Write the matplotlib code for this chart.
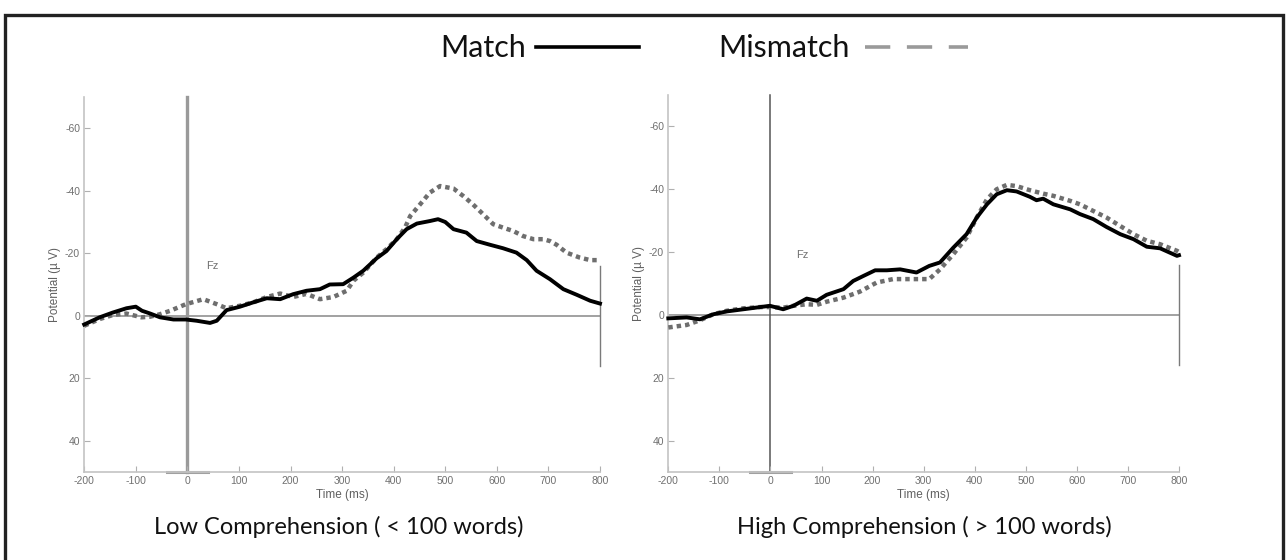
import numpy as np
import matplotlib
matplotlib.use("Agg")
import matplotlib.pyplot as plt
from matplotlib.lines import Line2D
from matplotlib.patches import Rectangle

plt.rcParams["axes.unicode_minus"] = False

# ERP na Fz, potencial em uV (eixo invertido: negativo para cima)
t_lo_match = [-200, -170, -145, -118, -100, -88, -72, -53, -27, -3, 18, 44, 57, 76, 102, 128, 154, 180,
              205, 231, 257, 276, 302, 322, 341, 367, 386, 406, 425, 445, 470, 486, 500, 516, 541, 561,
              587, 612, 638, 658, 677, 703, 729, 755, 781, 800]
v_lo_match = [2.8, 0.5, -1.0, -2.4, -2.9, -1.6, -0.7, 0.5, 1.2, 1.2, 1.6, 2.3, 1.6, -1.8, -2.9, -4.3, -5.6, -5.3,
              -6.9, -8.0, -8.5, -10.0, -10.1, -12.2, -14.4, -18.4, -20.7, -24.5, -27.7, -29.5, -30.3, -30.9, -30.0, -27.7, -26.6, -23.9,
              -22.7, -21.6, -20.2, -17.8, -14.4, -11.7, -8.5, -6.7, -4.8, -3.9]

t_lo_mis = [-200, -169, -143, -118, -89, -72, -53, -33, -3, 31, 57, 76, 102, 128, 154, 180, 205, 231, 257, 283,
            309, 322, 341, 367, 386, 406, 422, 432, 451, 470, 490, 516, 535, 554, 574, 593, 612, 632, 651,
            671, 690, 703, 716, 735, 761, 781, 800]
v_lo_mis = [3.2, 1.0, -0.3, -0.7, 0.5, 0.3, -0.5, -1.6, -3.7, -5.3, -3.7, -2.4, -3.2, -4.3, -6.0, -7.1, -6.0, -7.0, -5.3, -6.0,
            -8.0, -11.2, -13.8, -18.6, -21.3, -24.5, -28.2, -31.9, -35.6, -39.4, -41.5, -40.7, -38.3, -35.6, -32.4, -29.3, -28.2, -27.1, -25.5,
            -24.5, -24.5, -23.9, -22.7, -20.2, -18.6, -17.8, -17.8]

t_hi_match = [-200, -164, -138, -112, -86, -53, -20, -1, 25, 45, 71, 91, 110, 143, 162, 182, 205, 228, 254,
              286, 311, 332, 358, 384, 404, 424, 443, 463, 482, 508, 521, 534, 554, 587, 606, 632, 658, 685,
              711, 737, 763, 796, 800]
v_hi_match = [1.1, 0.8, 1.4, -0.2, -1.1, -1.8, -2.5, -2.9, -1.8, -2.9, -5.2, -4.5, -6.4, -8.2, -10.8, -12.4, -14.2, -14.2, -14.5,
              -13.5, -15.6, -16.7, -21.4, -25.7, -31.0, -35.2, -38.4, -39.7, -39.3, -37.6, -36.5, -37.0, -35.2, -33.6, -32.1, -30.5, -28.0, -25.7,
              -24.1, -21.7, -21.2, -18.8, -19.0]

t_hi_mis = [-200, -164, -138, -112, -86, -53, -20, -1, 25, 45, 71, 91, 110, 143, 175, 208, 240, 273, 293,
            311, 332, 358, 384, 404, 424, 443, 463, 482, 508, 534, 554, 587, 606, 632, 658, 685, 711,
            737, 763, 796, 800]
v_hi_mis = [4.0, 3.2, 1.7, -0.2, -1.3, -2.1, -2.5, -2.5, -2.3, -2.9, -3.4, -3.2, -4.2, -5.5, -7.4, -10.3, -11.4, -11.4, -11.4,
            -11.4, -14.5, -19.3, -24.6, -31.0, -36.8, -40.0, -41.4, -41.0, -39.7, -38.6, -37.9, -36.3, -35.2, -33.1, -31.0, -28.3, -25.7,
            -23.6, -22.5, -20.4, -20.0]

x_ticks = list(range(-200, 801, 100))
y_ticks = [-60, -40, -20, 0, 20, 40]
titulos = ["Low Comprehension ( < 100 words)", "High Comprehension ( > 100 words)"]

W, H = 1286, 560
fig = plt.figure(figsize=(W / 100, H / 100), dpi=100)


def painel(ax, t_m, v_m, t_mm, v_mm, cor_zero, lw_zero, fz_x, fz_y):
    ax.set_xlim(-200, 800)
    ax.set_ylim(50, -70)
    for s in ["top", "right"]:
        ax.spines[s].set_visible(False)
    for s in ["left", "bottom"]:
        ax.spines[s].set_color("#c4c4c4")
        ax.spines[s].set_linewidth(1.2)
    ax.set_xticks(x_ticks)
    ax.set_yticks(y_ticks)
    ax.tick_params(direction="in", length=4, width=0.8, color="#b0b0b0",
                   labelsize=7.5, labelcolor="#707070", pad=3)
    for lab in ax.get_xticklabels() + ax.get_yticklabels():
        lab.set_family("Liberation Sans")
    ax.set_xlabel("Time (ms)", fontsize=8.5, color="#606060", family="Liberation Sans", labelpad=2)
    ax.set_ylabel("Potential (\u00b5 V)", fontsize=8.5, color="#606060", family="Liberation Sans", labelpad=3)

    # linhas de referencia
    ax.plot([-200, 800], [0, 0], color="#9a9a9a", lw=1.3, zorder=1)
    ax.plot([0, 0], [50, -70], color=cor_zero, lw=lw_zero, zorder=1, clip_on=False)
    ax.plot([800, 800], [16, -16], color="#7a7a7a", lw=1.0, zorder=1, clip_on=False)
    ax.plot([-40, 40], [50, 50], color="#a0a0a0", lw=2.2, zorder=1, clip_on=False)
    ax.text(fz_x, fz_y, "Fz", fontsize=8, color="#707070", family="Liberation Sans", va="center")

    ax.plot(t_mm, v_mm, color="#6e6e6e", lw=3.2, linestyle=(0, (1, 0.9)), zorder=3, clip_on=False)
    ax.plot(t_m, v_m, color="black", lw=2.8, zorder=4, solid_joinstyle="round", clip_on=False)


ax1 = fig.add_axes([84.2 / W, 1 - 472 / H, 515.8 / W, 375 / H])
painel(ax1, t_lo_match, v_lo_match, t_lo_mis, v_lo_mis, "#9a9a9a", 2.4, 36, -16)
ax2 = fig.add_axes([668.3 / W, 1 - 472 / H, 510.7 / W, 377 / H])
painel(ax2, t_hi_match, v_hi_match, t_hi_mis, v_hi_mis, "#555555", 1.1, 50, -19)

fig.text(339 / W, 1 - 527 / H, titulos[0], fontsize=17, family="Lato", ha="center", va="center", color="#111111")
fig.text(924 / W, 1 - 527 / H, titulos[1], fontsize=17, family="Lato", ha="center", va="center", color="#111111")

# legenda no topo
fig.text(483 / W, 1 - 48 / H, "Match", fontsize=22, family="Lato", ha="center", va="center", color="#111111")
fig.add_artist(Line2D([536 / W, 639 / W], [1 - 47 / H] * 2, color="black", lw=2.6))
fig.text(784 / W, 1 - 48 / H, "Mismatch", fontsize=22, family="Lato", ha="center", va="center", color="#111111")
fig.add_artist(Line2D([865 / W, 968 / W], [1 - 47 / H] * 2, color="#9a9a9a", lw=2.6,
                      linestyle=(0, (7, 4.6))))

# moldura
fig.add_artist(Rectangle((5 / W, -0.05), 1278 / W, (H - 15) / H + 0.05, fill=False,
                         edgecolor="#222222", lw=2.4, transform=fig.transFigure))

fig.savefig("out.png", dpi=100)
